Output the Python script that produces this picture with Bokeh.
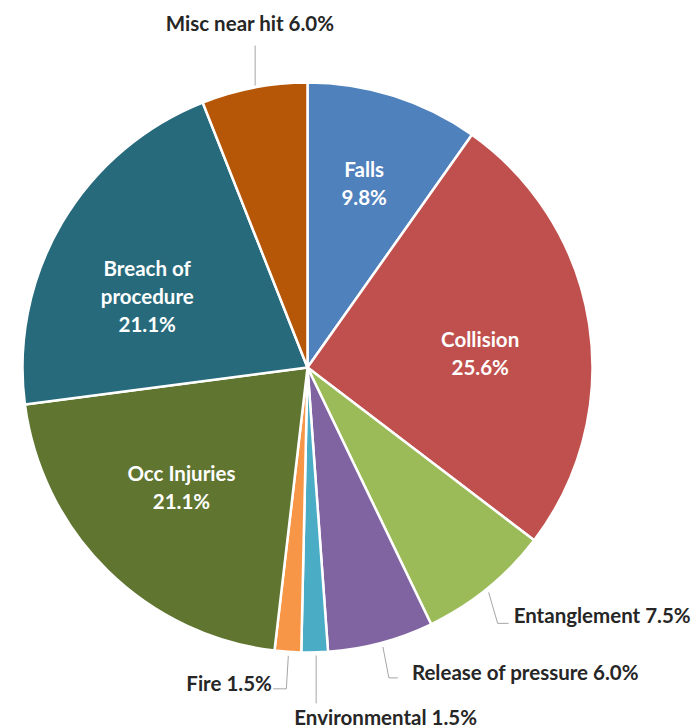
import numpy as np
from bokeh.plotting import figure
from bokeh.models import Range1d
from bokeh.embed import file_html
from bokeh.resources import INLINE
from bokeh.core.properties import value

# ---- data ----
categories = ["Falls", "Collision", "Entanglement", "Release of pressure",
              "Environmental", "Fire", "Occ Injuries", "Breach of procedure",
              "Misc near hit"]
percents = [9.8, 25.6, 7.5, 6.0, 1.5, 1.5, 21.1, 21.1, 6.0]
colors = ["#4F81BD", "#C0504D", "#9BBB59", "#8064A2", "#4BACC6",
          "#F79646", "#5F7530", "#276A7C", "#B65708"]
inside_lines = {
    "Falls": ["Falls"],
    "Collision": ["Collision"],
    "Occ Injuries": ["Occ Injuries"],
    "Breach of procedure": ["Breach of", "procedure"],
}

# ---- geometry (screen-like coordinates: x = px, y = -px) ----
cx, cy, R = 307.0, -367.0, 285.0
total = sum(percents)
cum = np.cumsum([0.0] + percents) / total
start = np.pi / 2 - 2 * np.pi * cum[:-1]
end = np.pi / 2 - 2 * np.pi * cum[1:]
mid = (start + end) / 2

W, H = 692, 728
p = figure(width=W, height=H, x_range=Range1d(0, W), y_range=Range1d(-H, 0),
           output_backend="svg", toolbar_location=None, min_border=0)
p.axis.visible = False
p.xgrid.visible = False
p.ygrid.visible = False
p.outline_line_color = None
p.background_fill_color = "white"
p.border_fill_color = "white"

p.wedge(x=cx, y=cy, radius=R, start_angle=list(start), end_angle=list(end),
        direction="clock", fill_color=colors, line_color="white", line_width=2.5)

FONT = value("Lato")
FS = "20.5px"
LH = 28

# inside labels: radial fraction and small nudge
inside_cfg = {
    "Falls": (0.68, -2, 0),
    "Collision": (0.62, -2, -12),
    "Occ Injuries": (0.62, -2, 6),
    "Breach of procedure": (0.62, -8, -18),
}
tx, ty, tt = [], [], []
for i, name in enumerate(categories):
    if name not in inside_cfg:
        continue
    frac, dx, dy = inside_cfg[name]
    lines = inside_lines[name] + [f"{percents[i]:.1f}%"]
    x0 = cx + frac * R * np.cos(mid[i]) + dx
    y0 = cy + frac * R * np.sin(mid[i]) + dy
    n = len(lines)
    for k, ln in enumerate(lines):
        tx.append(x0)
        ty.append(y0 + ((n - 1) / 2 - k) * LH)
        tt.append(ln)
p.text(x=tx, y=ty, text=tt, text_align="center", text_baseline="middle",
       text_font=FONT, text_font_style="bold", text_font_size=FS, text_color="white")

# outside labels: leader offsets relative to edge point, text offset, alignment
outside_cfg = {
    "Misc near hit": ([(1, 2), (1, 42)], (-4, 65), "center"),
    "Entanglement": ([(1, -4), (10, -35), (21, -35)], (26, -27), "left"),
    "Release of pressure": ([(2, -4), (8, -35), (17, -35)], (31, -29), "left"),
    "Environmental": ([(1.5, -3), (1.5, -51)], (71, -65), "center"),
    "Fire": ([(0.5, -4), (-1.5, -37), (-14.5, -37)], (-16, -31), "right"),
}
lxs, lys = [], []
for i, name in enumerate(categories):
    if name not in outside_cfg:
        continue
    pts, (ox, oy), align = outside_cfg[name]
    ex = cx + R * np.cos(mid[i])
    ey = cy + R * np.sin(mid[i])
    lxs.append([ex + a for a, b in pts])
    lys.append([ey + b for a, b in pts])
    p.text(x=[ex + ox], y=[ey + oy], text=[f"{name} {percents[i]:.1f}%"],
           text_align=align, text_baseline="middle", text_font=FONT,
           text_font_style="bold", text_font_size=FS, text_color="#262626")
p.multi_line(xs=lxs, ys=lys, line_color="#A6A6A6", line_width=1)

open("out.html", "w").write(file_html(p, INLINE))
